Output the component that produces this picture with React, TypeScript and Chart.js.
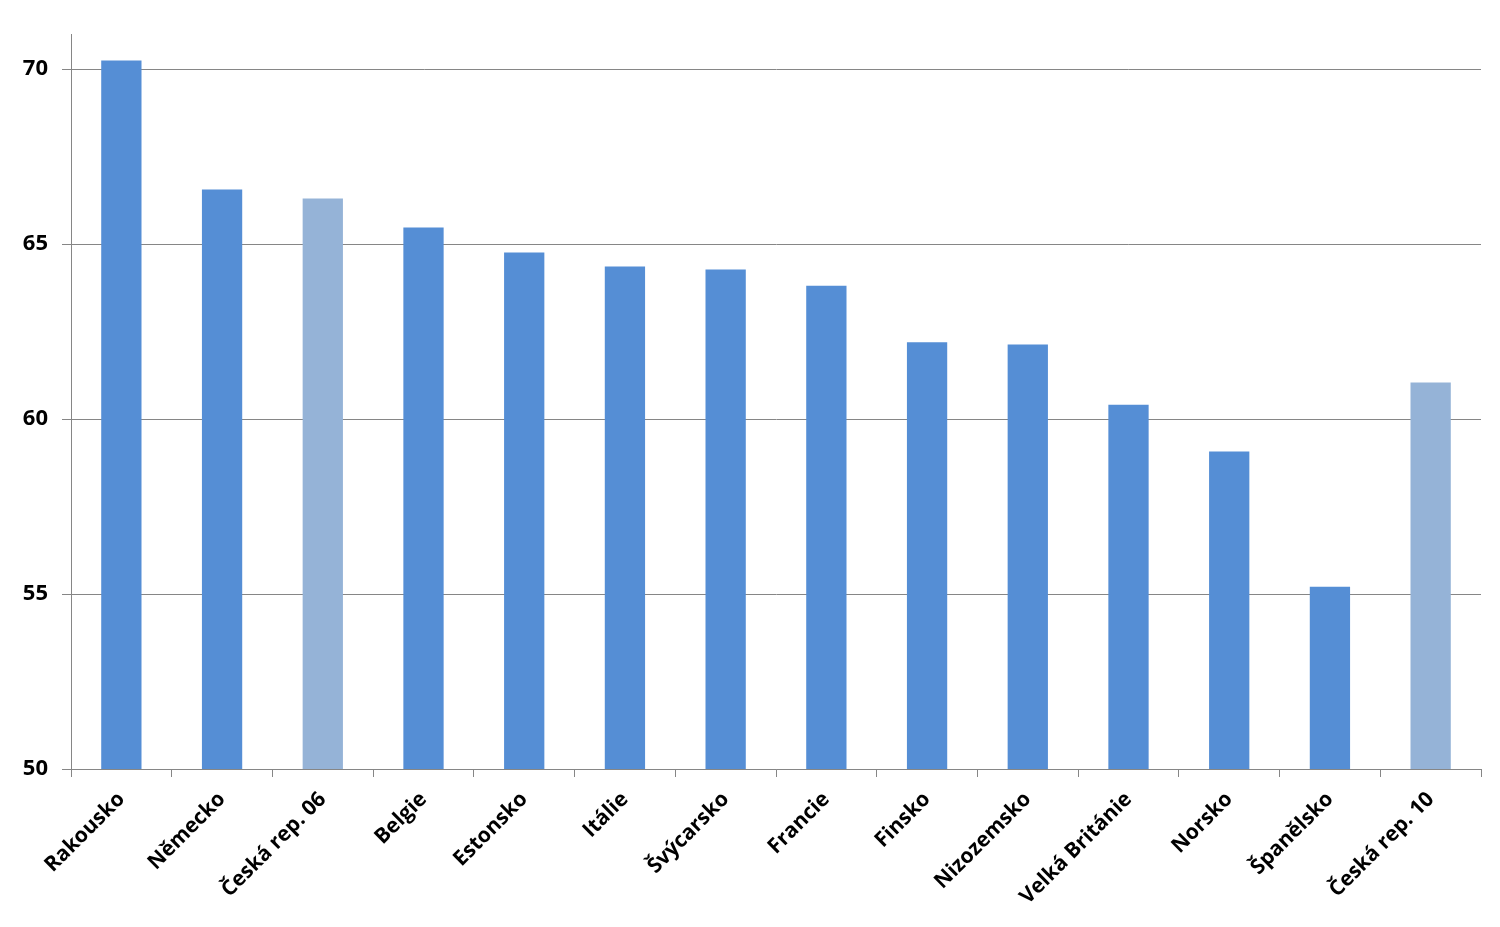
import React, { useEffect, useRef } from "react";
import { Chart, registerables } from "chart.js";

Chart.register(...registerables);

const categories = [
  "Rakousko",
  "Německo",
  "Česká rep. 06",
  "Belgie",
  "Estonsko",
  "Itálie",
  "Švýcarsko",
  "Francie",
  "Finsko",
  "Nizozemsko",
  "Velká Británie",
  "Norsko",
  "Španělsko",
  "Česká rep. 10",
];

const values = [70.24, 66.56, 66.3, 65.47, 64.76, 64.36, 64.27, 63.81, 62.19, 62.13, 60.41, 59.07, 55.21, 61.04];

const highlighted = ["Česká rep. 06", "Česká rep. 10"];

const yMin = 50;
const yMax = 71;
const yStep = 5;

const MAIN_COLOR = "#558ED5";
const LIGHT_COLOR = "#95B3D7";
const AXIS_COLOR = "#868686";

export default function App() {
  const ref = useRef<HTMLCanvasElement | null>(null);

  useEffect(() => {
    if (!ref.current) return;
    const chart = new Chart(ref.current, {
      type: "bar",
      data: {
        labels: categories,
        datasets: [
          {
            data: values,
            backgroundColor: categories.map((c) => (highlighted.includes(c) ? LIGHT_COLOR : MAIN_COLOR)),
            barPercentage: 0.4,
            categoryPercentage: 1,
            borderWidth: 0,
          },
        ],
      },
      options: {
        animation: false,
        responsive: true,
        maintainAspectRatio: false,
        layout: { padding: { top: 34, right: 19, left: 0, bottom: 0 } },
        plugins: {
          legend: { display: false },
          tooltip: { enabled: false },
        },
        scales: {
          x: {
            grid: {
              offset: true,
              drawOnChartArea: false,
              drawTicks: true,
              tickLength: 8,
              color: AXIS_COLOR,
            },
            border: { display: true, color: AXIS_COLOR },
            ticks: {
              minRotation: 45,
              maxRotation: 45,
              autoSkip: false,
              padding: 10,
              color: "#000000",
              font: { family: "'Open Sans'", size: 21, weight: "bold" },
            },
            afterFit: (scale: any) => {
              scale.height = 927 - 769;
            },
          },
          y: {
            min: yMin,
            max: yMax,
            grid: {
              drawTicks: true,
              tickLength: 9,
              color: AXIS_COLOR,
            },
            border: { display: true, color: AXIS_COLOR },
            ticks: {
              stepSize: yStep,
              padding: 14,
              color: "#000000",
              font: { family: "'Open Sans'", size: 22, weight: "bold" },
              callback: (v: any) => (Number(v) % yStep === 0 ? String(v) : ""),
            },
            afterBuildTicks: (scale: any) => {
              scale.ticks = scale.ticks.filter((t: any) => t.value % yStep === 0);
            },
            afterFit: (scale: any) => {
              scale.width = 71;
            },
          },
        },
      },
    });
    return () => chart.destroy();
  }, []);

  return (
    <div style={{ position: "fixed", left: 0, top: 0, width: 1500, height: 927, background: "#fff" }}>
      <canvas ref={ref} />
    </div>
  );
}
